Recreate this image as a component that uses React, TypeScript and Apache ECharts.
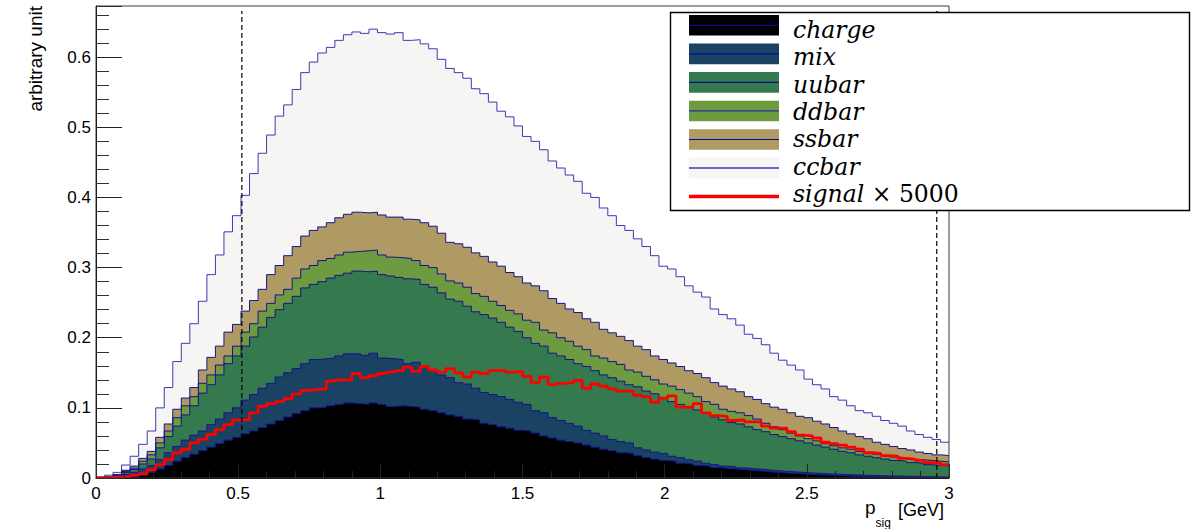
import { useEffect, useRef } from "react";
import * as echarts from "echarts";

// Histogram binning: 100 equal bins over p_sig in [0, 3] GeV
const N_BINS = 100;
const X_MIN = 0;
const X_MAX = 3;
const Y_MAX = 0.673;

// Stacked levels of the THStack-style plot: each array is the running
// total of that sample plus every sample drawn below it (per bin).
const chargeLevel = [
  0, 0, 0.0005, 0.001, 0.002, 0.004, 0.008, 0.013, 0.018, 0.024, 0.029, 0.034, 0.039, 0.044, 0.049, 0.054, 0.058, 0.063, 0.067, 0.072, 0.077, 0.082, 0.087, 0.092, 0.096,
  0.1, 0.101, 0.103, 0.105, 0.107, 0.106, 0.105, 0.107, 0.105, 0.102, 0.103, 0.102, 0.101, 0.098, 0.096, 0.093, 0.09, 0.088, 0.084, 0.083, 0.078, 0.076, 0.073, 0.071, 0.068,
  0.067, 0.064, 0.06, 0.057, 0.054, 0.052, 0.05, 0.047, 0.044, 0.041, 0.039, 0.036, 0.035, 0.032, 0.029, 0.027, 0.025, 0.024, 0.021, 0.02, 0.018, 0.017, 0.015, 0.014, 0.013,
  0.012, 0.011, 0.01, 0.009, 0.008, 0.0072, 0.0065, 0.0058, 0.005, 0.0045, 0.004, 0.0035, 0.003, 0.0026, 0.0022, 0.0019, 0.0016, 0.0014, 0.0012, 0.001, 0.0009, 0.0008, 0.0007, 0.0006, 0.0005,
];
const mixLevel = [
  0, 0.001, 0.002, 0.005, 0.008, 0.013, 0.018, 0.026, 0.036, 0.045, 0.054, 0.061, 0.067, 0.076, 0.084, 0.093, 0.1, 0.111, 0.119, 0.128, 0.135, 0.144, 0.15, 0.156, 0.163,
  0.169, 0.17, 0.171, 0.174, 0.177, 0.177, 0.175, 0.178, 0.171, 0.17, 0.169, 0.163, 0.165, 0.159, 0.154, 0.147, 0.143, 0.136, 0.134, 0.128, 0.122, 0.119, 0.116, 0.112, 0.108,
  0.105, 0.096, 0.093, 0.086, 0.082, 0.078, 0.074, 0.068, 0.064, 0.06, 0.055, 0.052, 0.05, 0.043, 0.04, 0.037, 0.035, 0.031, 0.029, 0.026, 0.024, 0.021, 0.019, 0.017, 0.016,
  0.0145, 0.0135, 0.0125, 0.0115, 0.0105, 0.0095, 0.0088, 0.008, 0.0072, 0.0066, 0.006, 0.0055, 0.005, 0.0045, 0.004, 0.0037, 0.0034, 0.003, 0.0028, 0.0025, 0.0023, 0.002, 0.0018, 0.0016, 0.0015,
];
const uubarLevel = [
  0, 0.001, 0.003, 0.008, 0.012, 0.02, 0.027, 0.043, 0.059, 0.074, 0.09, 0.103, 0.121, 0.133, 0.147, 0.163, 0.174, 0.188, 0.201, 0.215, 0.229, 0.24, 0.249, 0.259, 0.271,
  0.276, 0.28, 0.285, 0.289, 0.292, 0.295, 0.294, 0.295, 0.29, 0.288, 0.286, 0.284, 0.283, 0.276, 0.272, 0.264, 0.255, 0.252, 0.245, 0.237, 0.233, 0.228, 0.222, 0.215, 0.209,
  0.2, 0.192, 0.188, 0.178, 0.174, 0.169, 0.163, 0.159, 0.153, 0.147, 0.143, 0.138, 0.133, 0.13, 0.124, 0.12, 0.114, 0.109, 0.105, 0.101, 0.097, 0.093, 0.087, 0.083, 0.079,
  0.077, 0.073, 0.069, 0.066, 0.062, 0.059, 0.056, 0.053, 0.05, 0.047, 0.044, 0.041, 0.038, 0.036, 0.033, 0.031, 0.029, 0.027, 0.025, 0.024, 0.022, 0.021, 0.019, 0.018, 0.017,
];
const ddbarLevel = [
  0, 0.0015, 0.004, 0.0095, 0.014, 0.024, 0.033, 0.05, 0.067, 0.086, 0.103, 0.116, 0.135, 0.147, 0.161, 0.174, 0.188, 0.208, 0.22, 0.238, 0.249, 0.261, 0.269, 0.285, 0.298,
  0.303, 0.31, 0.313, 0.318, 0.322, 0.323, 0.324, 0.325, 0.318, 0.315, 0.314, 0.313, 0.31, 0.303, 0.3, 0.291, 0.281, 0.278, 0.272, 0.263, 0.259, 0.252, 0.246, 0.239, 0.234,
  0.225, 0.222, 0.211, 0.207, 0.2, 0.195, 0.188, 0.183, 0.174, 0.171, 0.166, 0.162, 0.154, 0.151, 0.145, 0.14, 0.134, 0.131, 0.126, 0.121, 0.116, 0.109, 0.105, 0.098, 0.095,
  0.093, 0.089, 0.084, 0.078, 0.073, 0.069, 0.064, 0.06, 0.056, 0.053, 0.049, 0.046, 0.043, 0.041, 0.038, 0.036, 0.034, 0.032, 0.03, 0.029, 0.027, 0.026, 0.025, 0.024, 0.023,
];
const ssbarLevel = [
  0, 0.002, 0.005, 0.011, 0.017, 0.028, 0.038, 0.058, 0.077, 0.098, 0.114, 0.129, 0.154, 0.172, 0.188, 0.208, 0.219, 0.238, 0.253, 0.269, 0.29, 0.303, 0.317, 0.33, 0.345,
  0.353, 0.358, 0.364, 0.371, 0.376, 0.379, 0.378, 0.379, 0.375, 0.372, 0.372, 0.369, 0.368, 0.364, 0.359, 0.349, 0.336, 0.334, 0.329, 0.321, 0.316, 0.308, 0.302, 0.293, 0.287,
  0.278, 0.274, 0.267, 0.256, 0.249, 0.241, 0.236, 0.227, 0.222, 0.212, 0.207, 0.202, 0.196, 0.188, 0.183, 0.174, 0.169, 0.164, 0.159, 0.153, 0.149, 0.143, 0.136, 0.131, 0.127,
  0.123, 0.116, 0.112, 0.106, 0.101, 0.098, 0.093, 0.088, 0.086, 0.081, 0.077, 0.072, 0.067, 0.063, 0.059, 0.056, 0.051, 0.048, 0.045, 0.042, 0.04, 0.037, 0.035, 0.033, 0.032,
];
const ccbarLevel = [
  0.001, 0.004, 0.008, 0.0185, 0.031, 0.048, 0.067, 0.1, 0.129, 0.166, 0.192, 0.22, 0.252, 0.29, 0.318, 0.351, 0.374, 0.403, 0.434, 0.463, 0.489, 0.516, 0.532, 0.554, 0.578,
  0.593, 0.606, 0.614, 0.624, 0.632, 0.636, 0.634, 0.64, 0.635, 0.633, 0.635, 0.624, 0.625, 0.619, 0.612, 0.597, 0.584, 0.578, 0.57, 0.555, 0.548, 0.536, 0.523, 0.515, 0.502,
  0.487, 0.48, 0.468, 0.452, 0.442, 0.432, 0.423, 0.406, 0.4, 0.385, 0.374, 0.36, 0.353, 0.341, 0.33, 0.317, 0.302, 0.298, 0.287, 0.274, 0.265, 0.258, 0.241, 0.233, 0.227,
  0.218, 0.205, 0.199, 0.19, 0.178, 0.168, 0.161, 0.154, 0.141, 0.133, 0.127, 0.116, 0.111, 0.103, 0.096, 0.093, 0.088, 0.082, 0.078, 0.074, 0.067, 0.062, 0.058, 0.055, 0.051,
];
// Signal MC, scaled up by 5000 (drawn as an unstacked red line)
const signalX5000 = [
  0.0005, 0.001, 0.0015, 0.002, 0.004, 0.006, 0.012, 0.019, 0.026, 0.036, 0.041, 0.05, 0.055, 0.062, 0.069, 0.076, 0.083, 0.083, 0.093, 0.102, 0.106, 0.109, 0.113, 0.12, 0.125,
  0.126, 0.127, 0.138, 0.14, 0.14, 0.149, 0.143, 0.146, 0.149, 0.151, 0.153, 0.158, 0.152, 0.159, 0.154, 0.151, 0.156, 0.15, 0.144, 0.151, 0.149, 0.153, 0.153, 0.151, 0.152,
  0.145, 0.136, 0.144, 0.133, 0.135, 0.136, 0.139, 0.128, 0.134, 0.131, 0.127, 0.124, 0.124, 0.118, 0.116, 0.108, 0.114, 0.117, 0.101, 0.101, 0.106, 0.093, 0.089, 0.088, 0.082,
  0.083, 0.08, 0.08, 0.074, 0.071, 0.071, 0.066, 0.061, 0.06, 0.057, 0.051, 0.049, 0.047, 0.044, 0.041, 0.036, 0.035, 0.032, 0.031, 0.028, 0.027, 0.025, 0.022, 0.022, 0.019,
];

// Selection window on p_sig (dashed vertical lines)
const cutValues = [0.513, 2.957];
const cutTop = 0.666;

// Stack layers, drawn from the total downwards so each fill covers the next
const layers = [
  { name: "ccbar", level: ccbarLevel, fill: "#f6f5f4", line: "#3a3ab4" },
  { name: "ssbar", level: ssbarLevel, fill: "#af9a63", line: "#14148c" },
  { name: "ddbar", level: ddbarLevel, fill: "#6e9a40", line: "#14148c" },
  { name: "uubar", level: uubarLevel, fill: "#357a4f", line: "#14148c" },
  { name: "mix", level: mixLevel, fill: "#1a4262", line: "#14148c" },
  { name: "charge", level: chargeLevel, fill: "#000000", line: "#14148c" },
];

// Legend rows, top to bottom
const legendRows = [
  { label: "charge", fill: "#000000", line: "#0a0a96", lineWidth: 1.2 },
  { label: "mix", fill: "#1a4262", line: "#0a0a96", lineWidth: 1.2 },
  { label: "uubar", fill: "#357a4f", line: "#0a0a96", lineWidth: 1.2 },
  { label: "ddbar", fill: "#6e9a40", line: "#2a2a9a", lineWidth: 1.2 },
  { label: "ssbar", fill: "#af9a63", line: "#0a0a96", lineWidth: 1.2 },
  { label: "ccbar", fill: "#f6f5f4", line: "#6a6ac8", lineWidth: 2 },
  { label: "signal", fill: null, line: "#ff0000", lineWidth: 3.5 },
];

const GRID = { left: 96, top: 6, width: 853, height: 472 };
const AXIS_FONT = "Liberation Sans";
const LEGEND_FONT = "DejaVu Serif";

function histPoints(values: number[]) {
  const w = (X_MAX - X_MIN) / N_BINS;
  const pts = values.map((v, i) => [X_MIN + i * w, v]);
  pts.push([X_MAX, values[values.length - 1]]);
  return pts;
}

function buildLegend() {
  const box = { x: 670.5, y: 12.5, w: 519, h: 198 };
  const els: any[] = [
    {
      type: "rect",
      z: 100,
      shape: { x: box.x, y: box.y, width: box.w, height: box.h },
      style: { fill: "#ffffff", stroke: "#000000", lineWidth: 1.4 },
    },
  ];
  legendRows.forEach((row, i) => {
    const cy = 25.3 + 28.55 * i;
    if (row.fill) {
      els.push({
        type: "rect",
        z: 101,
        shape: { x: 689, y: cy - 10.3, width: 90, height: 20.6 },
        style: { fill: row.fill },
      });
    }
    els.push({
      type: "line",
      z: 102,
      shape: { x1: 689, y1: cy, x2: 779, y2: cy },
      style: { stroke: row.line, lineWidth: row.lineWidth },
    });
    const ty = 30 + 27.3 * i;
    const isSignal = row.label === "signal";
    els.push({
      type: "text",
      z: 102,
      x: 793,
      y: ty,
      style: isSignal
        ? {
            text: "{i|signal}{n| × 5000}",
            rich: {
              i: { fontFamily: LEGEND_FONT, fontSize: 23.5, fontStyle: "italic", fill: "#000" },
              n: { fontFamily: LEGEND_FONT, fontSize: 23.5, fontStyle: "normal", fill: "#000" },
            },
            align: "left",
            verticalAlign: "middle",
          }
        : {
            text: row.label,
            fontFamily: LEGEND_FONT,
            fontSize: 23.5,
            fontStyle: "italic",
            fill: "#000",
            align: "left",
            verticalAlign: "middle",
          },
    });
  });
  return els;
}

export default function App() {
  const ref = useRef<HTMLDivElement>(null);

  useEffect(() => {
    if (!ref.current) return;
    const chart = echarts.init(ref.current, undefined, { renderer: "svg" });

    const stackSeries = layers.map((l) => ({
      name: l.name,
      type: "line",
      step: "end",
      data: histPoints(l.level),
      showSymbol: false,
      symbol: "none",
      lineStyle: { color: l.line, width: 1 },
      areaStyle: { color: l.fill, opacity: 1 },
      z: 2,
      silent: true,
    }));

    const signalSeries = {
      name: "signal",
      type: "line",
      step: "end",
      data: histPoints(signalX5000),
      showSymbol: false,
      symbol: "none",
      lineStyle: { color: "#ff0000", width: 2.8 },
      z: 3,
      silent: true,
    };

    const cutSeries = cutValues.map((c, i) => ({
      name: "cut" + i,
      type: "line",
      data: [
        [c, 0],
        [c, cutTop],
      ],
      showSymbol: false,
      symbol: "none",
      lineStyle: { color: "#000000", width: 1.2, type: [5, 3] },
      z: 4,
      silent: true,
    }));

    const frameEl = {
      type: "rect",
      z: 50,
      shape: { x: GRID.left, y: GRID.top, width: GRID.width, height: GRID.height },
      style: { fill: null, stroke: "#3a3a3a", lineWidth: 1 },
      silent: true,
    };

    // x-axis title "p_sig [GeV]", set just left of the last tick label
    const titleRight = 944;

    const option: any = {
      animation: false,
      backgroundColor: "#ffffff",
      grid: { ...GRID, containLabel: false },
      xAxis: {
        type: "value",
        min: X_MIN,
        max: X_MAX,
        interval: 0.5,
        z: 10,
        axisLine: { show: true, onZero: false, lineStyle: { color: "#000", width: 1 } },
        axisTick: { show: true, inside: true, length: 14, lineStyle: { color: "#222", width: 1 } },
        minorTick: { show: true, splitNumber: 5, length: 7, lineStyle: { color: "#222", width: 1 } },
        splitLine: { show: false },
        axisLabel: { fontFamily: AXIS_FONT, fontSize: 17, lineHeight: 13, color: "#000", margin: 9 },
      },
      yAxis: {
        type: "value",
        min: 0,
        max: Y_MAX,
        interval: 0.1,
        z: 10,
        axisLine: { show: true, onZero: false, lineStyle: { color: "#000", width: 1 } },
        axisTick: { show: true, inside: true, length: 26, lineStyle: { color: "#222", width: 1 } },
        minorTick: { show: true, splitNumber: 5, length: 13, lineStyle: { color: "#333", width: 1 } },
        splitLine: { show: false },
        axisLabel: {
          fontFamily: AXIS_FONT,
          fontSize: 17,
          color: "#000",
          margin: 5,
          showMaxLabel: false,
        },
      },
      series: [...stackSeries, signalSeries, ...cutSeries],
      graphic: [
        frameEl,
        {
          type: "text",
          z: 60,
          x: 26,
          y: 6,
          rotation: Math.PI / 2,
          style: {
            text: "arbitrary unit",
            fontFamily: AXIS_FONT,
            fontSize: 19,
            fill: "#000",
            align: "right",
            verticalAlign: "top",
          },
        },
        {
          type: "text",
          z: 60,
          x: titleRight - 79,
          y: 507,
          style: { text: "p", fontFamily: AXIS_FONT, fontSize: 19, lineHeight: 11, fill: "#000", align: "left", verticalAlign: "middle" },
        },
        {
          type: "text",
          z: 60,
          x: titleRight - 68.5,
          y: 522.5,
          style: { text: "sig", fontFamily: AXIS_FONT, fontSize: 12, lineHeight: 9, fill: "#000", align: "left", verticalAlign: "middle" },
        },
        {
          type: "text",
          z: 60,
          x: titleRight,
          y: 509.5,
          style: { text: "[GeV]", fontFamily: AXIS_FONT, fontSize: 18, lineHeight: 10, fill: "#000", align: "right", verticalAlign: "middle" },
        },
        ...buildLegend(),
      ],
    };

    chart.setOption(option);
    return () => chart.dispose();
  }, []);

  return (
    <div
      ref={ref}
      style={{ position: "fixed", left: 0, top: 0, width: 1197, height: 529, background: "#fff" }}
    />
  );
}
